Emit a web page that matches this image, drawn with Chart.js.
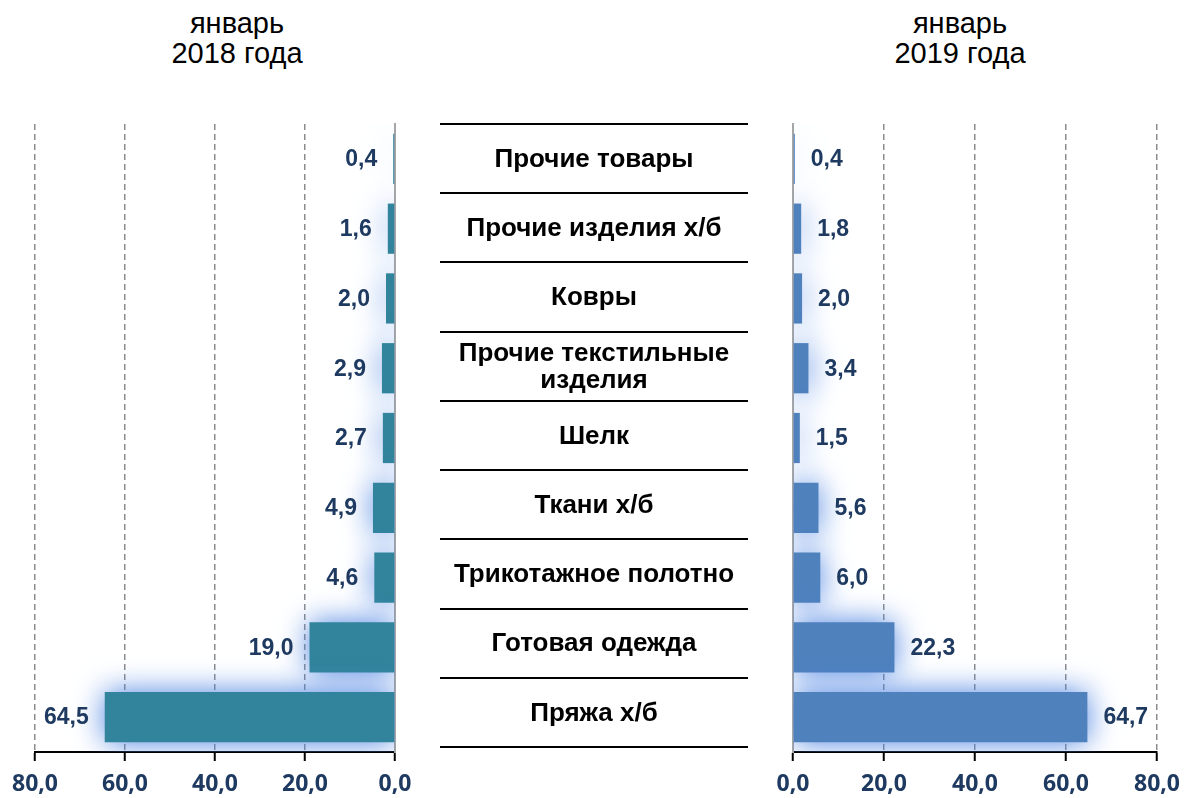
<!DOCTYPE html>
<html>
<head>
<meta charset="utf-8">
<script src="https://cdn.jsdelivr.net/npm/chart.js@4/dist/chart.umd.min.js"></script>
<style>
  body { margin: 0; background: #fff; }
  #wrap { position: relative; width: 1184px; height: 798px; overflow: hidden; }
  canvas { position: absolute; top: 0; }
  .title { position: absolute; top: 8px; width: 240px; text-align: center;
           font: 29px "Liberation Sans", Arial, sans-serif; line-height: 30px; color: #000; }
</style>
</head>
<body>
<div id="wrap">
  <div class="title" style="left:117px">январь<br>2018 года</div>
  <div class="title" style="left:840px">январь<br>2019 года</div>
  <canvas id="left" width="440" height="798" style="left:0"></canvas>
  <canvas id="mid" width="350" height="798" style="left:420px"></canvas>
  <canvas id="right" width="440" height="798" style="left:750px"></canvas>
</div>
<script>
var categories = ['Прочие товары', 'Прочие изделия х/б', 'Ковры', ['Прочие текстильные', 'изделия'],
  'Шелк', 'Ткани х/б', 'Трикотажное полотно', 'Готовая одежда', 'Пряжа х/б'];
var values2018 = [0.4, 1.6, 2.0, 2.9, 2.7, 4.9, 4.6, 19.0, 64.5];
var values2019 = [0.4, 1.8, 2.0, 3.4, 1.5, 5.6, 6.0, 22.3, 64.7];
var axisMin = 0, axisMax = 80, axisStep = 20;

var labelColor = '#1F3A60';
function fmt(v) { return Number(v).toFixed(1).replace('.', ','); }

// glow around bars
var glow = {
  id: 'glow',
  beforeDatasetsDraw: function(chart) {
    var ctx = chart.ctx;
    ctx.save();
    ctx.shadowColor = 'rgba(75,130,225,1)';
    ctx.shadowBlur = 30;
  },
  afterDatasetsDraw: function(chart) {
    chart.ctx.restore();
  }
};

// value labels next to bar ends
var valueLabels = {
  id: 'valueLabels',
  afterDatasetsDraw: function(chart) {
    var ctx = chart.ctx;
    var reversed = chart.options.scales.x.reverse;
    var data = chart.data.datasets[0].data;
    ctx.save();
    ctx.font = 'bold 23px "Liberation Sans", Arial, sans-serif';
    ctx.fillStyle = labelColor;
    ctx.textBaseline = 'middle';
    ctx.textAlign = reversed ? 'right' : 'left';
    chart.getDatasetMeta(0).data.forEach(function(bar, i) {
      var x = reversed ? bar.x - 16 : bar.x + 16;
      ctx.fillText(fmt(data[i]), x, bar.y + 1);
    });
    ctx.restore();
  }
};

function sideChart(id, values, color, reversed, pad) {
  return new Chart(document.getElementById(id), {
    type: 'bar',
    data: {
      labels: categories,
      datasets: [{ data: values, backgroundColor: color, borderWidth: 0,
                   categoryPercentage: 1, barPercentage: 0.72 }]
    },
    options: {
      indexAxis: 'y',
      responsive: false,
      animation: false,
      layout: { padding: pad },
      plugins: { legend: { display: false }, tooltip: { enabled: false } },
      scales: {
        x: {
          min: axisMin, max: axisMax, reverse: reversed,
          afterFit: function(s) { s.height = 46; },
          ticks: {
            stepSize: axisStep, padding: 10, color: labelColor,
            font: { family: '"Open Sans", sans-serif', size: 23, weight: 'bold' },
            callback: function(v) { return fmt(v); }
          },
          grid: { color: '#8C8C8C', lineWidth: 1.5, tickLength: 9, tickColor: '#000', tickWidth: 2 },
          border: { color: '#000', width: 2, dash: [6, 4] }
        },
        y: {
          position: reversed ? 'right' : 'left',
          afterFit: function(s) { s.width = 0; },
          ticks: { display: false },
          grid: { display: false },
          border: { color: '#A6A6A6', width: 2 }
        }
      }
    },
    plugins: [glow, valueLabels]
  });
}

sideChart('left', values2018, '#31849B', true, { top: 124, left: 35, right: 45, bottom: 0 });
sideChart('right', values2019, '#4F81BD', false, { top: 124, left: 43, right: 27, bottom: 0 });

// middle column: category names between black rules
var midLabels = {
  id: 'midLabels',
  afterDraw: function(chart) {
    var ctx = chart.ctx, y = chart.scales.y, area = chart.chartArea;
    var cx = (area.left + area.right) / 2;
    ctx.save();
    ctx.font = 'bold 26px "Liberation Sans", Arial, sans-serif';
    ctx.fillStyle = '#000';
    ctx.textAlign = 'center';
    ctx.textBaseline = 'middle';
    categories.forEach(function(c, i) {
      var lines = Array.isArray(c) ? c : [c];
      var py = y.getPixelForValue(i);
      lines.forEach(function(t, k) {
        ctx.fillText(t, cx, py + (k - (lines.length - 1) / 2) * 27 + 1);
      });
    });
    ctx.restore();
  }
};

new Chart(document.getElementById('mid'), {
  type: 'bar',
  data: { labels: categories, datasets: [{ data: [] }] },
  options: {
    indexAxis: 'y',
    responsive: false,
    animation: false,
    layout: { padding: { top: 124, left: 20, right: 22, bottom: 51 } },
    plugins: { legend: { display: false }, tooltip: { enabled: false } },
    scales: {
      x: { display: false },
      y: {
        offset: true,
        afterFit: function(s) { s.width = 0; },
        ticks: { display: false },
        grid: { offset: true, color: '#000', lineWidth: 2, drawTicks: false },
        border: { display: false }
      }
    }
  },
  plugins: [midLabels]
});
</script>
</body>
</html>
